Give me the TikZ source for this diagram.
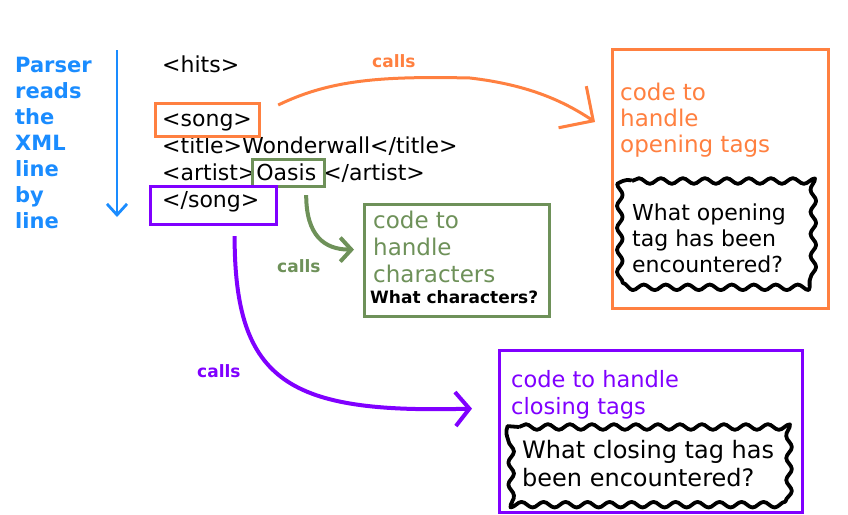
\documentclass[tikz,border=0pt]{standalone}
\usepackage{fontspec}
\setmainfont{DejaVu Sans}
\usetikzlibrary{arrows.meta,calc,decorations.pathmorphing}
\definecolor{corange}{HTML}{FF8040}
\definecolor{cgreen}{HTML}{6E9159}
\definecolor{cpurple}{HTML}{8000FF}
\definecolor{cblue}{HTML}{1A8CFF}
\newcommand\mycloud[4]{%
  \draw[cloudline] (#1+12,#2) -- (#3-12,#2) .. controls (#3,#2) .. (#3,#2+12)
    -- (#3,#4-12) .. controls (#3,#4) .. (#3-12,#4)
    -- (#1+12,#4) .. controls (#1,#4) .. (#1,#4-12)
    -- (#1,#2+12) .. controls (#1,#2) .. (#1+12,#2) -- cycle;}
\begin{document}
\begin{tikzpicture}[x=1pt,y=-1pt,
  frame/.style={draw, line width=3.2pt, inner sep=0pt, anchor=north west},
  txt/.style={inner sep=0pt, anchor=base west, align=left},
  xml/.style={txt, font=\fontsize{22}{27}\selectfont},
  cloudline/.style={draw=black, line width=3.8pt, fill=white, line join=round, decorate,
    decoration={snake, segment length=22pt, amplitude=2.8pt}},
  callslbl/.style={txt, font=\bfseries\fontsize{17}{20}\selectfont},
]
\useasboundingbox[fill=white] (0,0) rectangle (848,514);

% left blue text and arrow (base = last line)
\node[txt, text=cblue, font=\bfseries\fontsize{21}{26}\selectfont] (parser) at (15,228)
  {Parser\\reads\\the\\XML\\line\\by\\line};
\coordinate (bt) at (117,50);
\coordinate (bb) at (117,217);
\draw[cblue, line width=2.8pt, -{Straight Barb[length=11pt,width=20pt]}] (bt) -- (bb);

% XML lines
\node[xml] (hits) at (162,72) {<hits>};
\node[xml] (songtxt) at (162,126) {<song>};
\node[xml] (title) at (162,153) {<title>Wonderwall</title>};
\node[xml] (artist) at (162,180) {<artist>Oasis\hspace{7pt}</artist>};
\node[xml] (endtxt) at (162,207) {</song>};

% highlight frames
\node[frame, draw=corange, minimum width=104pt, minimum height=33pt] (song) at (154,102) {};
\node[frame, draw=cgreen, minimum width=72pt, minimum height=27pt] (oasis) at (251,158) {};
\node[frame, draw=cpurple, minimum width=126pt, minimum height=38pt] (endsong) at (149,185) {};

% handler boxes
\node[frame, draw=corange, minimum width=216pt, minimum height=259pt] (open) at (611,48) {};
\node[txt, text=corange, font=\fontsize{23}{26}\selectfont] (opentxt) at (620,152)
  {code to\\handle\\opening tags};
\mycloud{620}{181}{812}{287}
\node[txt, font=\fontsize{22}{26}\selectfont] (oqtxt) at (632,272)
  {What opening\\tag has been\\encountered?};

\node[frame, draw=cgreen, minimum width=185pt, minimum height=112pt] (chars) at (363,203) {};
\node[txt, text=cgreen, font=\fontsize{23}{27}\selectfont] (charstxt) at (373,282)
  {code to\\handle\\characters};
\node[txt, font=\bfseries\fontsize{17}{20}\selectfont] (charsq) at (370,303) {What characters?};

\node[frame, draw=cpurple, minimum width=303pt, minimum height=162pt] (close) at (498,349) {};
\node[txt, text=cpurple, font=\fontsize{22.5}{27}\selectfont] (closetxt) at (511,414)
  {code to handle\\closing tags};
\mycloud{507}{427}{788}{503}
\node[txt, font=\fontsize{24}{28}\selectfont] (cqtxt) at (522,486)
  {What closing tag has\\been encountered?};

% connectors
\draw[corange, line width=3pt, -{Straight Barb[length=25pt,width=50pt]}]
  ($(song.north east)+(17,3)$) .. controls (330,80) and (380,76) .. (470,78)
  .. controls (530,85) and (565,102) .. ($(open.north west)+(-16,74)$);
\node[callslbl, text=corange] (c1) at (372,67) {calls};

\draw[cgreen, line width=4pt, -{Straight Barb[length=11pt,width=24pt]}]
  ($(oasis.south east)+(-20,7)$) .. controls +(0,40) and +(-30,0) .. ($(chars.west)+(-9,-11)$);
\node[callslbl, text=cgreen] (c2) at (277,272) {calls};

\draw[cpurple, line width=4pt, -{Straight Barb[length=14pt,width=34pt]}]
  ($(endsong.south)+(21,10)$) .. controls +(0,147) and +(-182,5) .. ($(close.west)+(-26,-23)$);
\node[callslbl, text=cpurple] (c3) at (197,377) {calls};
\end{tikzpicture}
\end{document}
